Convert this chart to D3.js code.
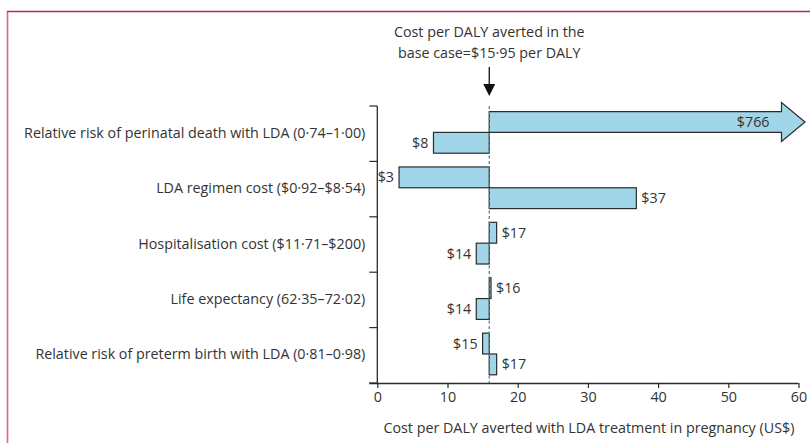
<!DOCTYPE html>
<html>
<head>
<meta charset="utf-8">
<script src="https://cdn.jsdelivr.net/npm/d3@7"></script>
<style>
  body { margin: 0; background: #ffffff; }
  svg { display: block; font-family: "Open Sans", sans-serif; }
</style>
</head>
<body>
<div id="chart"></div>
<script>
// parameters of the one-way sensitivity analysis
const categories = [
  "Relative risk of perinatal death with LDA (0·74–1·00)",
  "LDA regimen cost ($0·92–$8·54)",
  "Hospitalisation cost ($11·71–$200)",
  "Life expectancy (62·35–72·02)",
  "Relative risk of preterm birth with LDA (0·81–0·98)"
];
// cost per DALY for the upper and lower bar of each parameter
const upperValues = [766, 3.1, 17.0, 16.2, 15.0];
const lowerValues = [8.0, 36.9, 14.1, 14.1, 17.0];
const baseCase = 15.95;
const xTicks = [0, 10, 20, 30, 40, 50, 60];

const width = 810, height = 443;
const textColor = "#333333";
const barFill = "#a0d6e8";
const barStroke = "#2b2b2b";
const fs = "14.3px";

const svg = d3.select("#chart").append("svg")
  .attr("width", width)
  .attr("height", height);

// frame
svg.append("line")
  .attr("x1", 7.5).attr("x2", 7.5).attr("y1", 11).attr("y2", height)
  .attr("stroke", "#e0668e")
  .attr("stroke-width", 1.6);
svg.append("line")
  .attr("x1", 7).attr("x2", width).attr("y1", 11.5).attr("y2", 11.5)
  .attr("stroke", "#c2255a")
  .attr("stroke-width", 1.6);

const x = d3.scaleLinear().domain([0, 60]).range([377.3, 798.5]);
const y = d3.scaleBand().domain(categories).range([106, 383]).paddingInner(0).paddingOuter(0);
const bw = y.bandwidth();
const barH = bw * 0.376;
const barOff = bw * 0.1;

// x axis
const xAxis = svg.append("g")
  .attr("transform", `translate(0,${y.range()[1]})`)
  .call(d3.axisBottom(x).tickValues(xTicks).tickSize(5).tickSizeOuter(0).tickPadding(4));
xAxis.select(".domain").attr("d", `M${x(0) - 8},0.5H${x(60)}`).attr("stroke", barStroke).attr("stroke-width", 1.3);
xAxis.selectAll(".tick line").attr("stroke", barStroke).attr("stroke-width", 1.2);
xAxis.selectAll(".tick text")
  .attr("fill", textColor)
  .style("font-size", fs)
  .style("font-family", "'Open Sans', sans-serif");

svg.append("text")
  .attr("x", (x(0) + x(60)) / 2 + 1)
  .attr("y", 428)
  .attr("dy", "0.35em")
  .attr("text-anchor", "middle")
  .attr("fill", textColor)
  .style("font-size", fs)
  .text("Cost per DALY averted with LDA treatment in pregnancy (US$)");

// y axis with ticks at band boundaries
const bounds = categories.map(c => y(c)).concat([y.range()[1]]);
svg.append("line")
  .attr("x1", x(0)).attr("x2", x(0))
  .attr("y1", y.range()[0]).attr("y2", y.range()[1])
  .attr("stroke", barStroke).attr("stroke-width", 1.3);
svg.selectAll(".ytick").data(bounds).join("line")
  .attr("class", "ytick")
  .attr("x1", x(0) - 8).attr("x2", x(0))
  .attr("y1", d => d).attr("y2", d => d)
  .attr("stroke", barStroke).attr("stroke-width", 1.2);

svg.selectAll(".ylabel").data(categories).join("text")
  .attr("class", "ylabel")
  .attr("x", x(0) - 12)
  .attr("y", d => y(d) + bw / 2 - 1)
  .attr("dy", "0.35em")
  .attr("text-anchor", "end")
  .attr("fill", textColor)
  .style("font-size", fs)
  .text(d => d);

// bars
const bars = [];
categories.forEach((c, i) => {
  bars.push({ cat: c, v: upperValues[i], top: y(c) + barOff });
  bars.push({ cat: c, v: lowerValues[i], top: y(c) + barOff + barH });
});

const barG = svg.append("g");
bars.forEach(b => {
  const x0 = x(baseCase);
  if (b.v > x.domain()[1]) {
    // off-scale value drawn as an arrow
    const xe = x.range()[1];
    const headBase = xe - 17;
    const tip = xe + 6.5;
    const y0 = b.top, y1 = b.top + barH, ym = b.top + barH / 2;
    barG.append("path")
      .attr("d", `M${x0},${y0}H${headBase}V${ym - 19.5}L${tip},${ym}L${headBase},${ym + 19.5}V${y1}H${x0}Z`)
      .attr("fill", barFill)
      .attr("stroke", barStroke)
      .attr("stroke-width", 1.2)
      .attr("stroke-linejoin", "miter");
    barG.append("text")
      .attr("x", xe - 29)
      .attr("y", ym)
      .attr("dy", "0.35em")
      .attr("text-anchor", "end")
      .attr("fill", textColor)
      .style("font-size", fs)
      .text("$" + Math.round(b.v));
  } else {
    const xv = x(b.v);
    barG.append("rect")
      .attr("x", Math.min(x0, xv))
      .attr("y", b.top)
      .attr("width", Math.abs(xv - x0))
      .attr("height", barH)
      .attr("fill", barFill)
      .attr("stroke", barStroke)
      .attr("stroke-width", 1.2);
    const left = b.v < baseCase;
    barG.append("text")
      .attr("x", left ? xv - 5 : xv + 5)
      .attr("y", b.top + barH / 2)
      .attr("dy", "0.35em")
      .attr("text-anchor", left ? "end" : "start")
      .attr("fill", textColor)
      .style("font-size", fs)
      .text("$" + Math.round(b.v));
  }
});

// base case reference line
svg.append("line")
  .attr("x1", x(baseCase)).attr("x2", x(baseCase))
  .attr("y1", y.range()[0]).attr("y2", y.range()[1])
  .attr("stroke", "#5f7f90")
  .attr("stroke-width", 1.3)
  .attr("stroke-dasharray", "3,2.5");

// annotation
const ax = x(baseCase);
const note = svg.append("text")
  .attr("x", ax)
  .attr("text-anchor", "middle")
  .attr("fill", textColor)
  .style("font-size", fs);
note.append("tspan").attr("x", ax).attr("y", 37).text("Cost per DALY averted in the");
note.append("tspan").attr("x", ax).attr("y", 58).text("base case=$15·95 per DALY");

svg.append("line")
  .attr("x1", ax).attr("x2", ax)
  .attr("y1", 67).attr("y2", 85)
  .attr("stroke", "#111").attr("stroke-width", 1.3);
svg.append("path")
  .attr("d", `M${ax - 6},84L${ax + 6},84L${ax},96Z`)
  .attr("fill", "#111");
</script>
</body>
</html>
